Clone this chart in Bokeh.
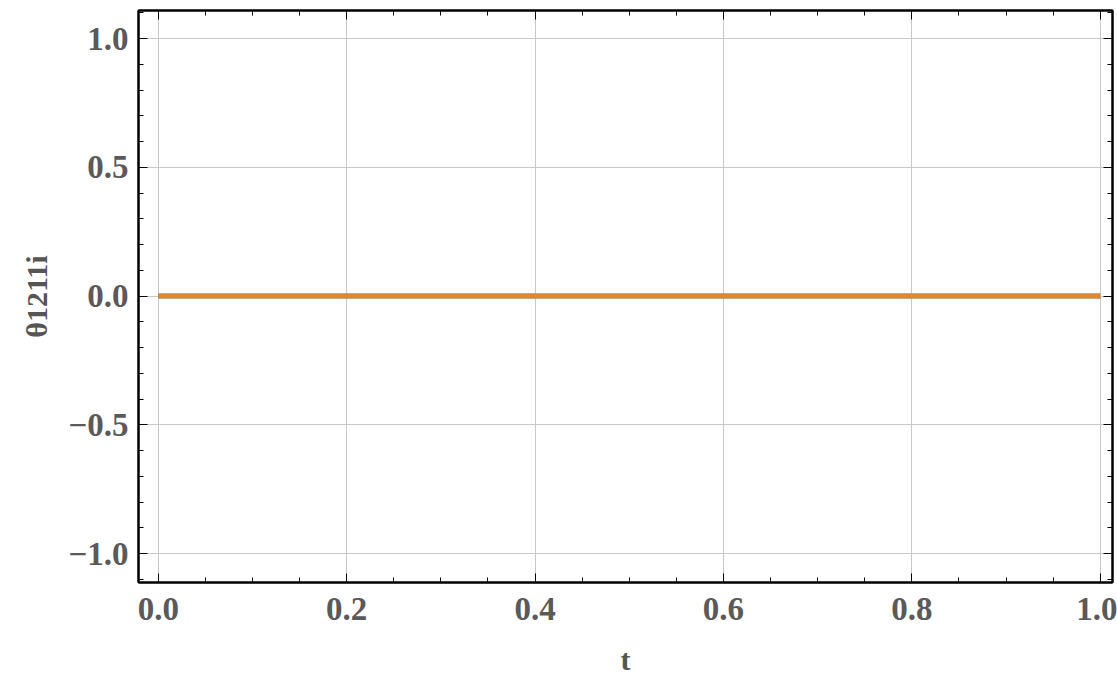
from bokeh.plotting import figure
from bokeh.models import LinearAxis, Range1d, FixedTicker, CustomJSTickFormatter
from bokeh.embed import file_html
from bokeh.resources import INLINE

# data
t = [0.0, 1.0]
re_part = [0.0, 0.0]
im_part = [0.0, 0.0]
x_ticks = [0.0, 0.2, 0.4, 0.6, 0.8, 1.0]
y_ticks = [-1.0, -0.5, 0.0, 0.5, 1.0]

p = figure(width=1117, height=678, output_backend="svg", toolbar_location=None,
           x_range=Range1d(-0.021, 1.013), y_range=Range1d(-1.112, 1.109),
           min_border_left=138, min_border_right=5, min_border_top=10, min_border_bottom=95)

p.outline_line_color = "black"
p.outline_line_width = 2
p.background_fill_color = "white"
p.border_fill_color = "white"

p.line(t, re_part, line_color="#5E81B5", line_width=5)
p.line(t, im_part, line_color="#E0892C", line_width=5)

xt = FixedTicker(ticks=x_ticks, minor_ticks=[i * 0.05 for i in range(-1, 22)])
yt = FixedTicker(ticks=y_ticks, minor_ticks=[i * 0.1 for i in range(-12, 13)])
fmt = CustomJSTickFormatter(code="return (tick < 0 ? '\u2212' : '') + Math.abs(tick).toFixed(1);")

def style(ax, labels=True):
    ax.axis_line_color = "black"
    ax.axis_line_width = 2
    ax.major_tick_in = 9
    ax.major_tick_out = 0
    ax.minor_tick_in = 5
    ax.minor_tick_out = 0
    ax.major_tick_line_color = "black"
    ax.minor_tick_line_color = "black"
    ax.major_tick_line_width = 1
    ax.minor_tick_line_width = 1
    ax.major_label_text_font = "Liberation Serif"
    ax.major_label_text_font_style = "bold"
    ax.major_label_text_font_size = "33px"
    ax.major_label_text_color = "#5a5a5a"
    ax.axis_label_text_font = "Liberation Serif"
    ax.axis_label_text_font_style = "bold"
    ax.axis_label_text_font_size = "30px"
    ax.axis_label_text_color = "#555555"
    ax.formatter = fmt
    if not labels:
        ax.major_label_text_font_size = "0px"
        ax.major_label_text_color = None

bottom = p.below[0]
left = p.left[0]
bottom.ticker = xt
left.ticker = yt
style(bottom)
style(left)
bottom.axis_label = "t"
left.axis_label = "θ1211i"
bottom.major_label_standoff = 15
left.major_label_standoff = 10
bottom.axis_label_standoff = 20
left.axis_label_standoff = 12

top = LinearAxis(ticker=xt)
style(top, labels=False)
p.add_layout(top, "above")
right = LinearAxis(ticker=yt)
style(right, labels=False)
p.add_layout(right, "right")

p.xgrid.ticker = xt
p.ygrid.ticker = yt
p.xgrid.grid_line_color = "#c8c8c8"
p.ygrid.grid_line_color = "#c8c8c8"
p.xgrid.grid_line_width = 1
p.ygrid.grid_line_width = 1

open("out.html", "w").write(file_html(p, INLINE))
